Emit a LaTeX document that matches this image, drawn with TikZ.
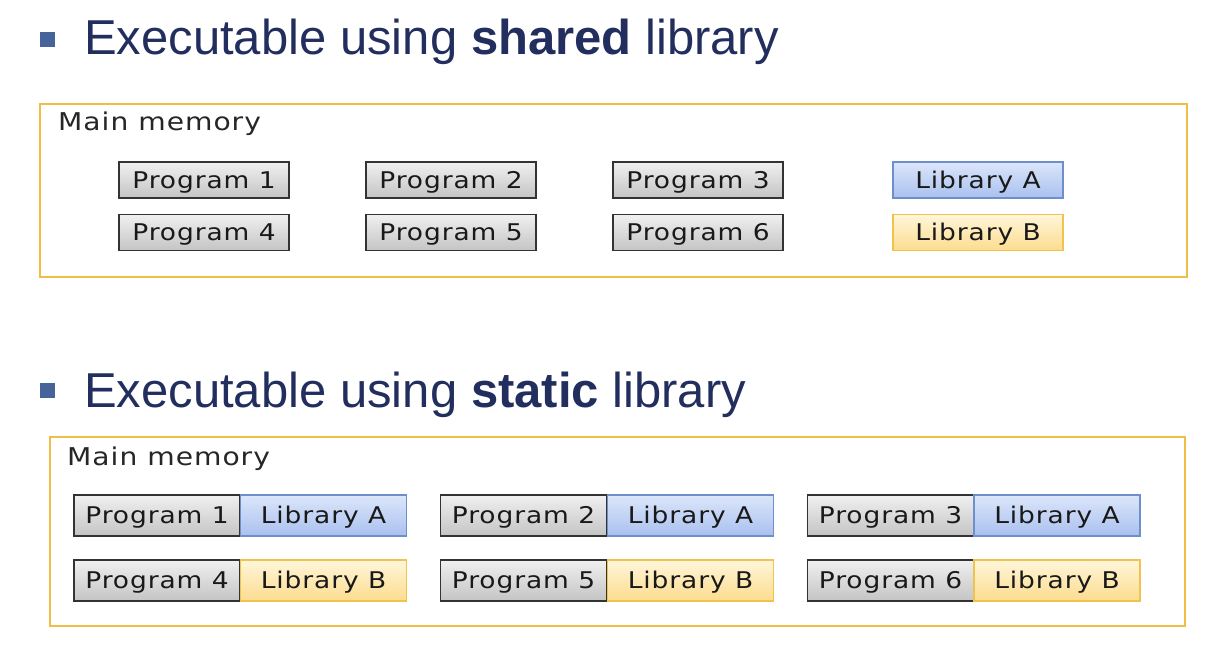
\documentclass[tikz,border=0pt]{standalone}
\usepackage{fontspec}
\setmainfont{Liberation Sans}
\newfontfamily\boxfont[LetterSpace=4,FakeStretch=1.15]{DejaVu Sans}
\definecolor{titlec}{HTML}{222E5E}
\definecolor{bulletc}{HTML}{46639A}
\definecolor{framec}{HTML}{F0BE48}
\definecolor{progborder}{HTML}{333333}
\definecolor{libaborder}{HTML}{6F8FCC}
\definecolor{libbborder}{HTML}{F0C24E}
\definecolor{progtop}{HTML}{F0F0F0}
\definecolor{progbot}{HTML}{C4C4C4}
\definecolor{libatop}{HTML}{DCE6FB}
\definecolor{libabot}{HTML}{A9C0EE}
\definecolor{libbtop}{HTML}{FFF6DA}
\definecolor{libbbot}{HTML}{FCDC8E}
\tikzset{
  frame/.style={draw=framec, line width=2.5pt},
  bul/.style={fill=bulletc, minimum size=15pt, inner sep=0pt},
  title/.style={anchor=west, text=titlec, font=\fontsize{49}{53}\selectfont, inner sep=0pt},
  memlabel/.style={anchor=west, font=\boxfont\fontsize{24.5}{28}\selectfont, inner sep=0pt, text=black!85},
  blk/.style={minimum height=36pt, inner sep=0pt, text height=16.5pt, text depth=0pt, font=\boxfont\fontsize{23}{26}\selectfont, line width=1.3pt, text=black!90},
  prog/.style={blk, draw=progborder, top color=progtop, bottom color=progbot},
  liba/.style={blk, draw=libaborder, top color=libatop, bottom color=libabot},
  libb/.style={blk, draw=libbborder, top color=libbtop, bottom color=libbbot},
}
\begin{document}
\begin{tikzpicture}[x=1pt,y=-1pt]
\useasboundingbox (0,0) rectangle (1215,648);
% titles
\node[bul] (b1) at (47.5,39) {};
\node[title] (t1) at (84,42) {Executable using \textbf{shared} library};
\node[bul] (b2) at (47.5,390) {};
\node[title] (t2) at (84,395) {Executable using \textbf{static} library};
% top frame
\draw[frame] (40,104) rectangle (1187,277);
\node[memlabel] (m1) at (58,124) {Main memory};
\node[prog, minimum width=170pt] (p1) at (204,180) {Program 1};
\node[prog, minimum width=170pt] (p2) at (451,180) {Program 2};
\node[prog, minimum width=170pt] (p3) at (698,180) {Program 3};
\node[liba, minimum width=170pt] (la) at (978,180) {Library A};
\node[prog, minimum width=170pt] (p4) at (204,232.5) {Program 4};
\node[prog, minimum width=170pt] (p5) at (451,232.5) {Program 5};
\node[prog, minimum width=170pt] (p6) at (698,232.5) {Program 6};
\node[libb, minimum width=170pt] (lb) at (978,232.5) {Library B};
% bottom frame
\draw[frame] (50,437) rectangle (1185,626);
\node[memlabel] (m2) at (67,459) {Main memory};
\tikzset{sp/.style={minimum width=166pt, minimum height=41pt}}
\node[prog, sp] (q1) at (157,515.5) {Program 1};
\node[liba, sp] (qa1) at (323.5,515.5) {Library A};
\node[prog, sp] (q2) at (523.5,515.5) {Program 2};
\node[liba, sp] (qa2) at (690.5,515.5) {Library A};
\node[prog, sp] (q3) at (890.5,515.5) {Program 3};
\node[liba, sp] (qa3) at (1057,515.5) {Library A};
\node[prog, sp] (q4) at (157,580.5) {Program 4};
\node[libb, sp] (qb4) at (323.5,580.5) {Library B};
\node[prog, sp] (q5) at (523.5,580.5) {Program 5};
\node[libb, sp] (qb5) at (690.5,580.5) {Library B};
\node[prog, sp] (q6) at (890.5,580.5) {Program 6};
\node[libb, sp] (qb6) at (1057,580.5) {Library B};
\end{tikzpicture}
\end{document}
